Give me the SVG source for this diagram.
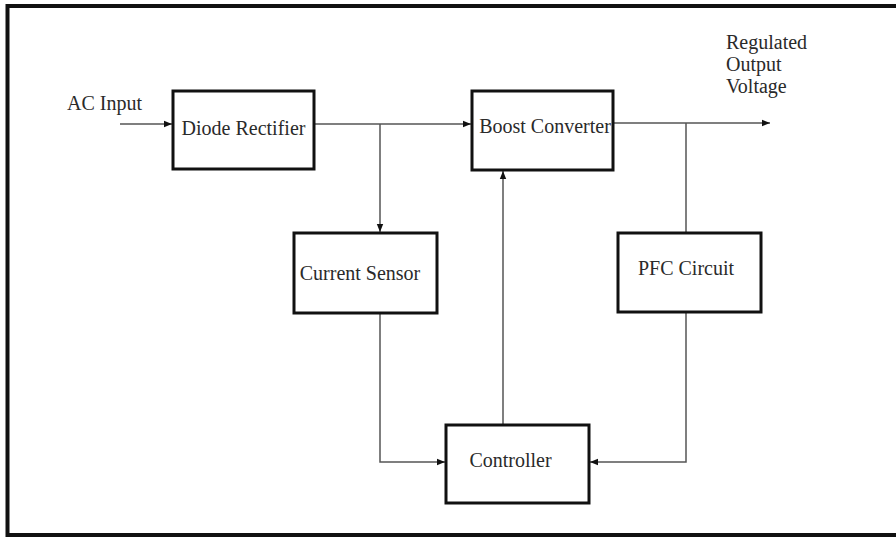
<svg xmlns="http://www.w3.org/2000/svg" width="896" height="538" viewBox="0 0 896 538">
<defs>
<marker id="ah" viewBox="0 0 10 10" refX="10" refY="5" markerWidth="8" markerHeight="8" markerUnits="userSpaceOnUse" orient="auto">
<path d="M0,1 L10,5 L0,9 z" fill="#111"/>
</marker>
<style>
.box{fill:#fff;stroke:#111;stroke-width:3}
.lbl{font-family:"Liberation Serif","Times New Roman","DejaVu Serif",serif;font-size:20px;fill:#2a2a2a}
.cn{fill:none;stroke:#555;stroke-width:1.5}
</style>
</defs>
<rect x="0" y="0" width="896" height="538" fill="#fff"/>
<rect x="7.5" y="6" width="900" height="529" fill="none" stroke="#111" stroke-width="4"/>
<g id="connectors">
<path class="cn" d="M120,124 H172" marker-end="url(#ah)"/>
<path class="cn" d="M314,124 H471" marker-end="url(#ah)"/>
<path class="cn" d="M380,124 V232" marker-end="url(#ah)"/>
<path class="cn" d="M613,123 H770" marker-end="url(#ah)"/>
<path class="cn" d="M686,123 V233"/>
<path class="cn" d="M686,312 V462 H590" marker-end="url(#ah)"/>
<path class="cn" d="M380,313 V462 H445" marker-end="url(#ah)"/>
<path class="cn" d="M503,425 V171" marker-end="url(#ah)"/>
</g>
<g id="ac-input"><text class="lbl" x="67" y="110">AC Input</text></g>
<g id="regulated-output"><text class="lbl" x="726" y="49">Regulated</text><text class="lbl" x="726" y="71">Output</text><text class="lbl" x="726" y="93">Voltage</text></g>
<g id="diode-rectifier"><rect class="box" x="173" y="91" width="141" height="78"/><text class="lbl" x="243.5" y="135" text-anchor="middle">Diode Rectifier</text></g>
<g id="boost-converter"><rect class="box" x="472" y="91" width="141" height="79"/><text class="lbl" x="545" y="133" text-anchor="middle">Boost Converter</text></g>
<g id="current-sensor"><rect class="box" x="294" y="233" width="143" height="80"/><text class="lbl" x="360" y="280" text-anchor="middle">Current Sensor</text></g>
<g id="pfc-circuit"><rect class="box" x="618" y="233" width="143" height="79"/><text class="lbl" x="686" y="275" text-anchor="middle">PFC Circuit</text></g>
<g id="controller"><rect class="box" x="446" y="425" width="143" height="78"/><text class="lbl" x="510.5" y="467" text-anchor="middle">Controller</text></g>
</svg>
